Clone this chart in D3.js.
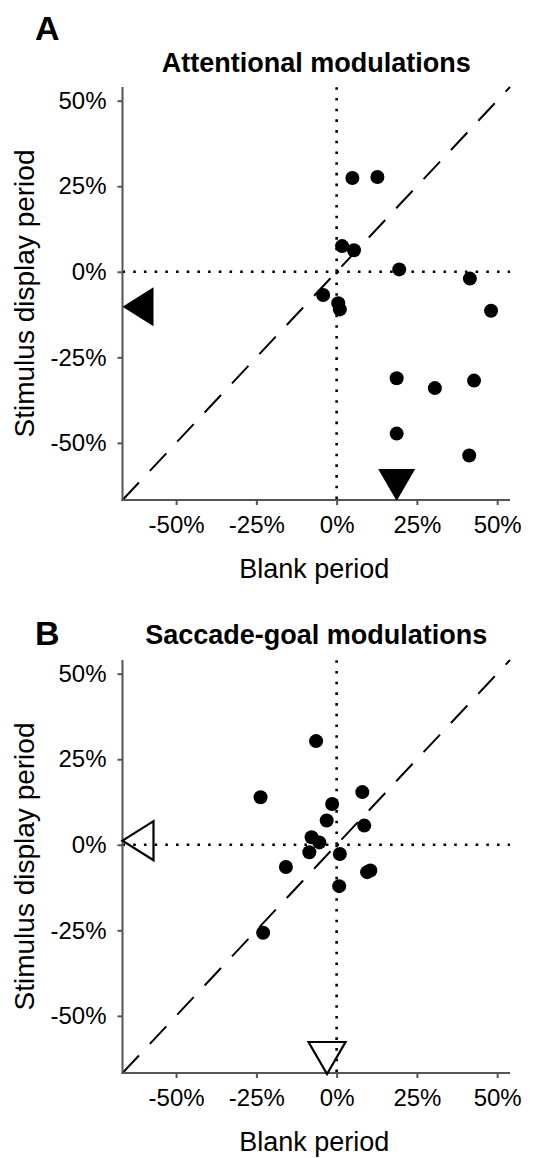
<!DOCTYPE html>
<html>
<head>
<meta charset="utf-8">
<script src="https://cdn.jsdelivr.net/npm/d3@7"></script>
<style>
  body { margin: 0; background: #fff; }
  svg { display: block; font-family: "Liberation Sans", Arial, Helvetica, sans-serif; }
</style>
</head>
<body>
<svg width="559" height="1158"></svg>
<script>
// Panel A: attentional modulations (percent)
var blankA   = [4.9, 12.7, 1.7, 5.4, 19.5, 41.5, -4.2, 0.5, 1.0, 48.1, 18.7, 30.6, 42.8, 18.7, 41.3];
var displayA = [27.4, 27.7, 7.5, 6.3, 0.7, -2.0, -6.8, -9.2, -11.0, -11.4, -31.1, -34.0, -31.8, -47.3, -53.7];
var meanA = { blank: 18.7, display: -10.2 };

// Panel B: saccade-goal modulations (percent)
var blankB   = [-6.4, -23.7, 8.0, -1.4, -3.1, 8.6, -7.8, -5.4, -8.5, 1.0, -15.8, 9.5, 10.5, 0.8, -22.9];
var displayB = [30.3, 13.9, 15.4, 11.9, 7.1, 5.6, 2.2, 0.7, -2.2, -2.7, -6.5, -8.0, -7.5, -12.1, -25.7];
var meanB = { blank: -3.0, display: 1.2 };

var tickValues = [-50, -25, 0, 25, 50];
var domain = [-66.7, 54];

var panels = [
  { letter: "A", title: "Attentional modulations", blank: blankA, display: displayA, mean: meanA,
    filled: true, top: 87, letterY: 40, titleY: 72 },
  { letter: "B", title: "Saccade-goal modulations", blank: blankB, display: displayB, mean: meanB,
    filled: false, top: 660, letterY: 645, titleY: 644 }
];

var left = 122.5;
var right = 510;
var plotH = 413;
var axisColor = "#555";

var svg = d3.select("svg");

panels.forEach(drawPanel);

function drawPanel(p) {
  var top = p.top;
  var bottom = top + plotH;

  var xScale =
    d3.scaleLinear()
      .domain(domain)
      .range([left, right]);

  var yScale =
    d3.scaleLinear()
      .domain(domain)
      .range([bottom, top]);

  var xAxis =
    d3.axisBottom(xScale)
      .tickValues(tickValues)
      .tickFormat(d => d + "%")
      .tickSize(5)
      .tickSizeOuter(0)
      .tickPadding(11);

  var yAxis =
    d3.axisLeft(yScale)
      .tickValues(tickValues)
      .tickFormat(d => d + "%")
      .tickSize(5)
      .tickSizeOuter(0)
      .tickPadding(11);

  var data = p.blank.map((b, i) => ({ blank: b, display: p.display[i] }));

  var g = svg.append("g");

  // zero reference lines (dotted)
  g.append("line")
    .attr("x1", xScale(domain[0]))
    .attr("x2", xScale(domain[1]))
    .attr("y1", yScale(0))
    .attr("y2", yScale(0))
    .attr("stroke", "#000")
    .attr("stroke-width", 2.6)
    .attr("stroke-dasharray", "2.6,8.1");

  g.append("line")
    .attr("x1", xScale(0))
    .attr("x2", xScale(0))
    .attr("y1", yScale(0))
    .attr("y2", yScale(domain[1]))
    .attr("stroke", "#000")
    .attr("stroke-width", 2.6)
    .attr("stroke-dasharray", "2.6,8.1");

  g.append("line")
    .attr("x1", xScale(0))
    .attr("x2", xScale(0))
    .attr("y1", yScale(0))
    .attr("y2", yScale(domain[0]))
    .attr("stroke", "#000")
    .attr("stroke-width", 2.6)
    .attr("stroke-dasharray", "2.6,8.1");

  // unity line (dashed)
  g.append("line")
    .attr("x1", xScale(domain[0]))
    .attr("y1", yScale(domain[0]))
    .attr("x2", xScale(domain[1]))
    .attr("y2", yScale(domain[1]))
    .attr("stroke", "#000")
    .attr("stroke-width", 2)
    .attr("stroke-dasharray", "24,16");

  // Axes
  var gx = g.append("g")
      .attr("transform", `translate(0, ${bottom})`)
      .call(xAxis);

  var gy = g.append("g")
      .attr("transform", `translate(${left}, 0)`)
      .call(yAxis);

  [gx, gy].forEach(a => {
    a.select(".domain").attr("stroke", axisColor).attr("stroke-width", 2);
    a.selectAll(".tick line").attr("stroke", axisColor).attr("stroke-width", 2);
    a.selectAll(".tick text")
      .attr("fill", "#000")
      .style("font-size", "24px");
  });

  // extend axis lines to the corner
  gx.select(".domain").attr("d", `M${left - 1},0H${right}`);
  gy.select(".domain").attr("d", `M0,${bottom + 1}V${top}`);

  // Data points
  g.selectAll("circle")
    .data(data)
    .enter()
    .append("circle")
      .attr("cx", d => xScale(d.blank))
      .attr("cy", d => yScale(d.display))
      .attr("r", 7)
      .attr("fill", "#000");

  // Mean markers
  var my = yScale(p.mean.display);
  var mx = xScale(p.mean.blank);
  var fill = p.filled ? "#000" : "none";

  g.append("path")
    .attr("d", `M${left},${my}L${left + 31},${my - 19.5}L${left + 31},${my + 19.5}Z`)
    .attr("fill", fill)
    .attr("stroke", "#000")
    .attr("stroke-width", p.filled ? 0 : 2.2)
    .attr("stroke-linejoin", "miter");

  g.append("path")
    .attr("d", `M${mx},${bottom + 1}L${mx - 18.5},${bottom - 31}L${mx + 18.5},${bottom - 31}Z`)
    .attr("fill", fill)
    .attr("stroke", "#000")
    .attr("stroke-width", p.filled ? 0 : 2.2)
    .attr("stroke-linejoin", "miter");

  // X-axis label
  g.append("text")
    .attr("x", (left + right) / 2 - 2)
    .attr("y", bottom + 78)
    .style("text-anchor", "middle")
    .style("font-size", "27px")
    .text("Blank period");

  // Y-axis label
  g.append("text")
    .attr("transform", "rotate(-90)")
    .attr("x", -(top + bottom) / 2)
    .attr("y", 34)
    .style("text-anchor", "middle")
    .style("font-size", "28px")
    .text("Stimulus display period");

  // Title
  g.append("text")
    .attr("x", (left + right) / 2)
    .attr("y", p.titleY)
    .style("text-anchor", "middle")
    .style("font-size", "27px")
    .style("font-weight", "bold")
    .text(p.title);

  // Panel letter
  g.append("text")
    .attr("x", 35)
    .attr("y", p.letterY)
    .style("font-size", "34px")
    .style("font-weight", "bold")
    .text(p.letter);
}
</script>
</body>
</html>
